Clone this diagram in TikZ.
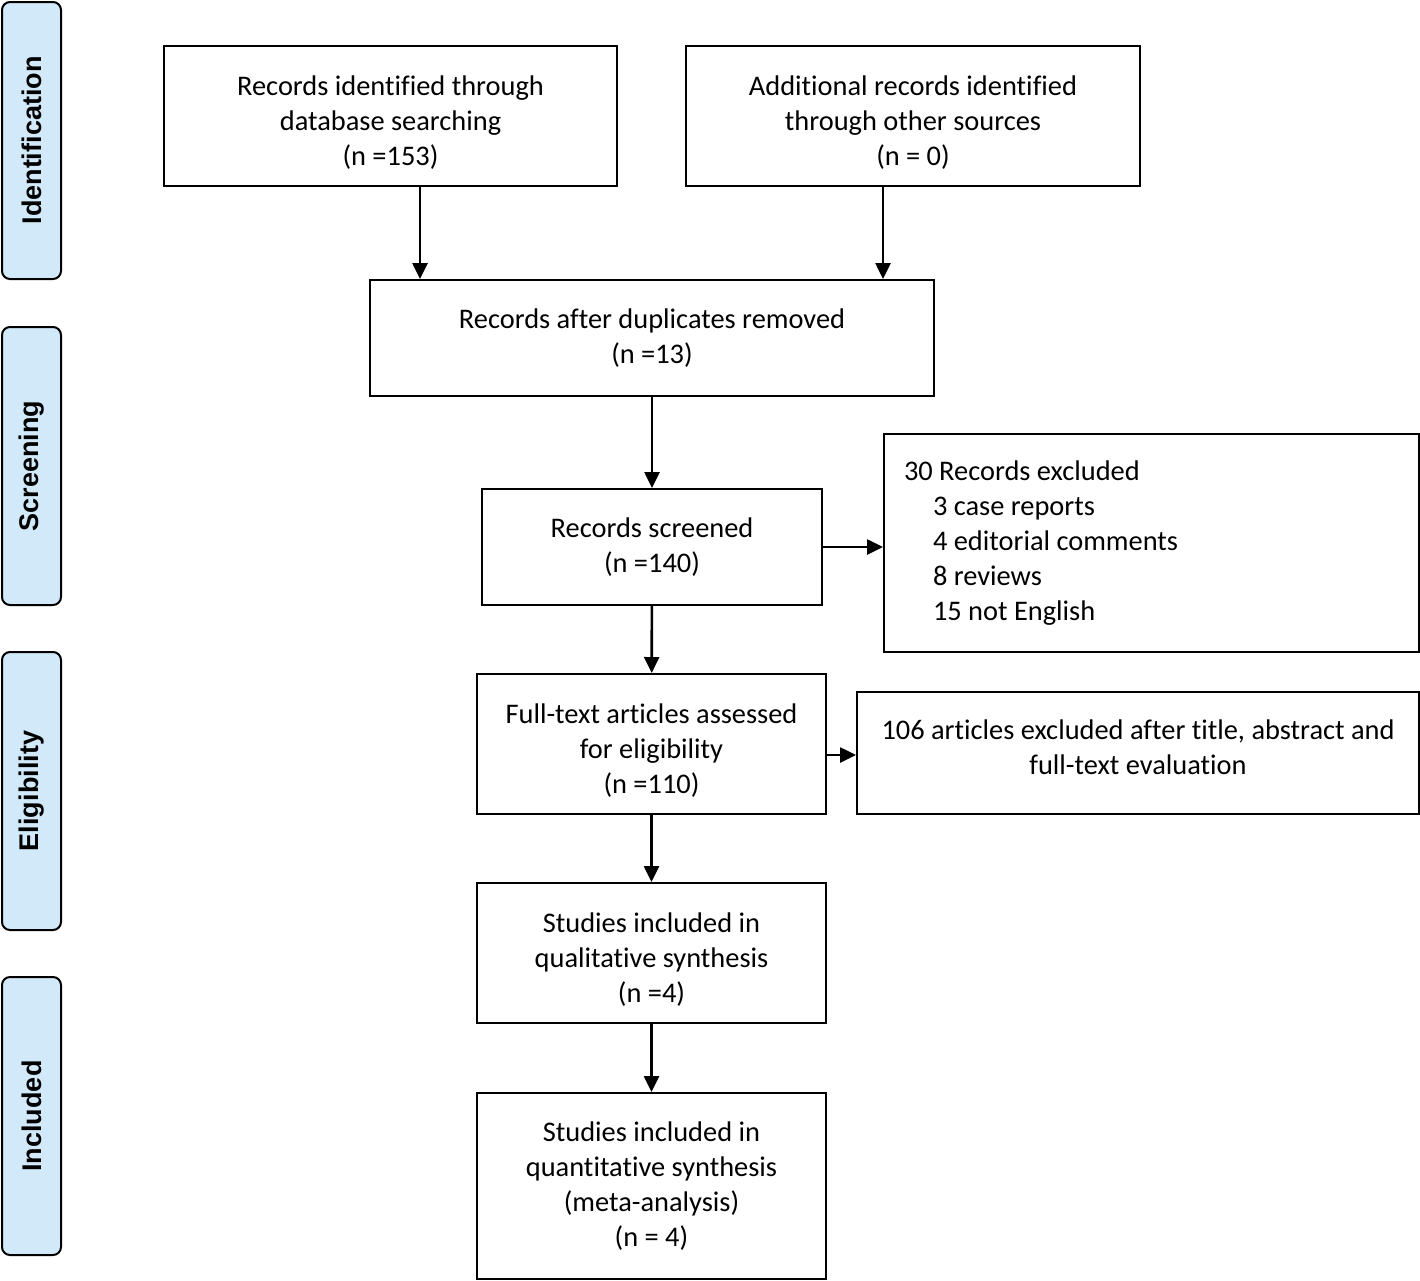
\documentclass[tikz,border=0pt]{standalone}
\usepackage{fontspec}
\setmainfont{Carlito}[Ligatures=NoCommon]
\newfontfamily\sidefont{Liberation Sans}
\usetikzlibrary{arrows.meta}
\definecolor{sidefill}{RGB}{210,233,250}
\newcommand{\lowtext}{\rule{0pt}{32pt}}
\newcommand{\hightext}{\rule[-11pt]{0pt}{11pt}}
\tikzset{every picture/.style={x=1pt, y=-1pt}}
\tikzset{box/.style={draw, line width=2pt, align=center, inner sep=0pt,
  font=\fontsize{28.4}{35}\selectfont}}
\tikzset{stage/.style={draw, line width=2pt, rounded corners=8pt, fill=sidefill,
  rotate=90, minimum height=59pt, inner sep=0pt,
  font=\sidefont\bfseries\fontsize{27}{32}\selectfont}}
\tikzset{arr/.style={line width=2.6pt, -{Triangle[length=16pt, width=15pt]}}}

\begin{document}
\begin{tikzpicture}
\useasboundingbox (0,0) rectangle (1420,1280);
% stages
\node[stage, minimum width=277pt] (idn) at (31.5,140.5) {Identification};
\node[stage, minimum width=278pt] (scr) at (31.5,466) {Screening};
\node[stage, minimum width=278pt] (elg) at (31.5,791) {Eligibility};
\node[stage, minimum width=278pt] (inc) at (31.5,1116) {Included};
% boxes
\node[box, minimum width=453pt, minimum height=140pt] (db) at (390.5,116)
  {\lowtext Records identified through\\database searching\\(n =153)};
\node[box, minimum width=454pt, minimum height=140pt] (oth) at (913,116)
  {\lowtext Additional records identified\\through other sources\\(n = 0)};
\node[box, minimum width=564pt, minimum height=116pt] (dup) at (652,338)
  {Records after duplicates removed\\(n =13)};
\node[box, minimum width=340pt, minimum height=116pt] (scrd) at (652,547)
  {Records screened\\(n =140)};
\node[box, minimum height=218pt, text width=495pt, inner xsep=20pt, align=flush left] (exc) at (1151.5,543)
  {30 Records excluded\\
   \hspace*{29pt}3 case reports\\
   \hspace*{29pt}4 editorial comments\\
   \hspace*{29pt}8 reviews\\
   \hspace*{29pt}15 not English};
\node[box, minimum width=349pt, minimum height=140pt] (full) at (651.5,744)
  {\lowtext Full-text articles assessed\\for eligibility\\(n =110)};
\node[box, minimum width=562pt, minimum height=122pt] (fexc) at (1138,753)
  {106 articles excluded after title, abstract and\\full-text evaluation\hightext};
\node[box, minimum width=349pt, minimum height=140pt] (qual) at (651.5,953)
  {\lowtext Studies included in\\qualitative synthesis\\(n =4)};
\node[box, minimum width=349pt, minimum height=186pt] (quan) at (651.5,1186)
  {Studies included in\\quantitative synthesis\\(meta-analysis)\\(n = 4)};
% arrows
\coordinate (dbs) at ([xshift=29.5pt]db.south);
\coordinate (oths) at ([xshift=-30pt]oth.south);
\coordinate (fe) at ([yshift=-11pt]full.east);
\draw[arr] (dbs) -- (dbs |- dup.north);
\draw[arr] (oths) -- (oths |- dup.north);
\draw[arr] (dup) -- (scrd);
\draw[arr] (scrd.east) -- (scrd.east -| exc.west);
\draw[arr] (scrd) -- (full);
\draw[arr] (fe) -- (fe -| fexc.west);
\draw[arr] (full) -- (qual);
\draw[arr] (qual) -- (quan);
\end{tikzpicture}
\end{document}
